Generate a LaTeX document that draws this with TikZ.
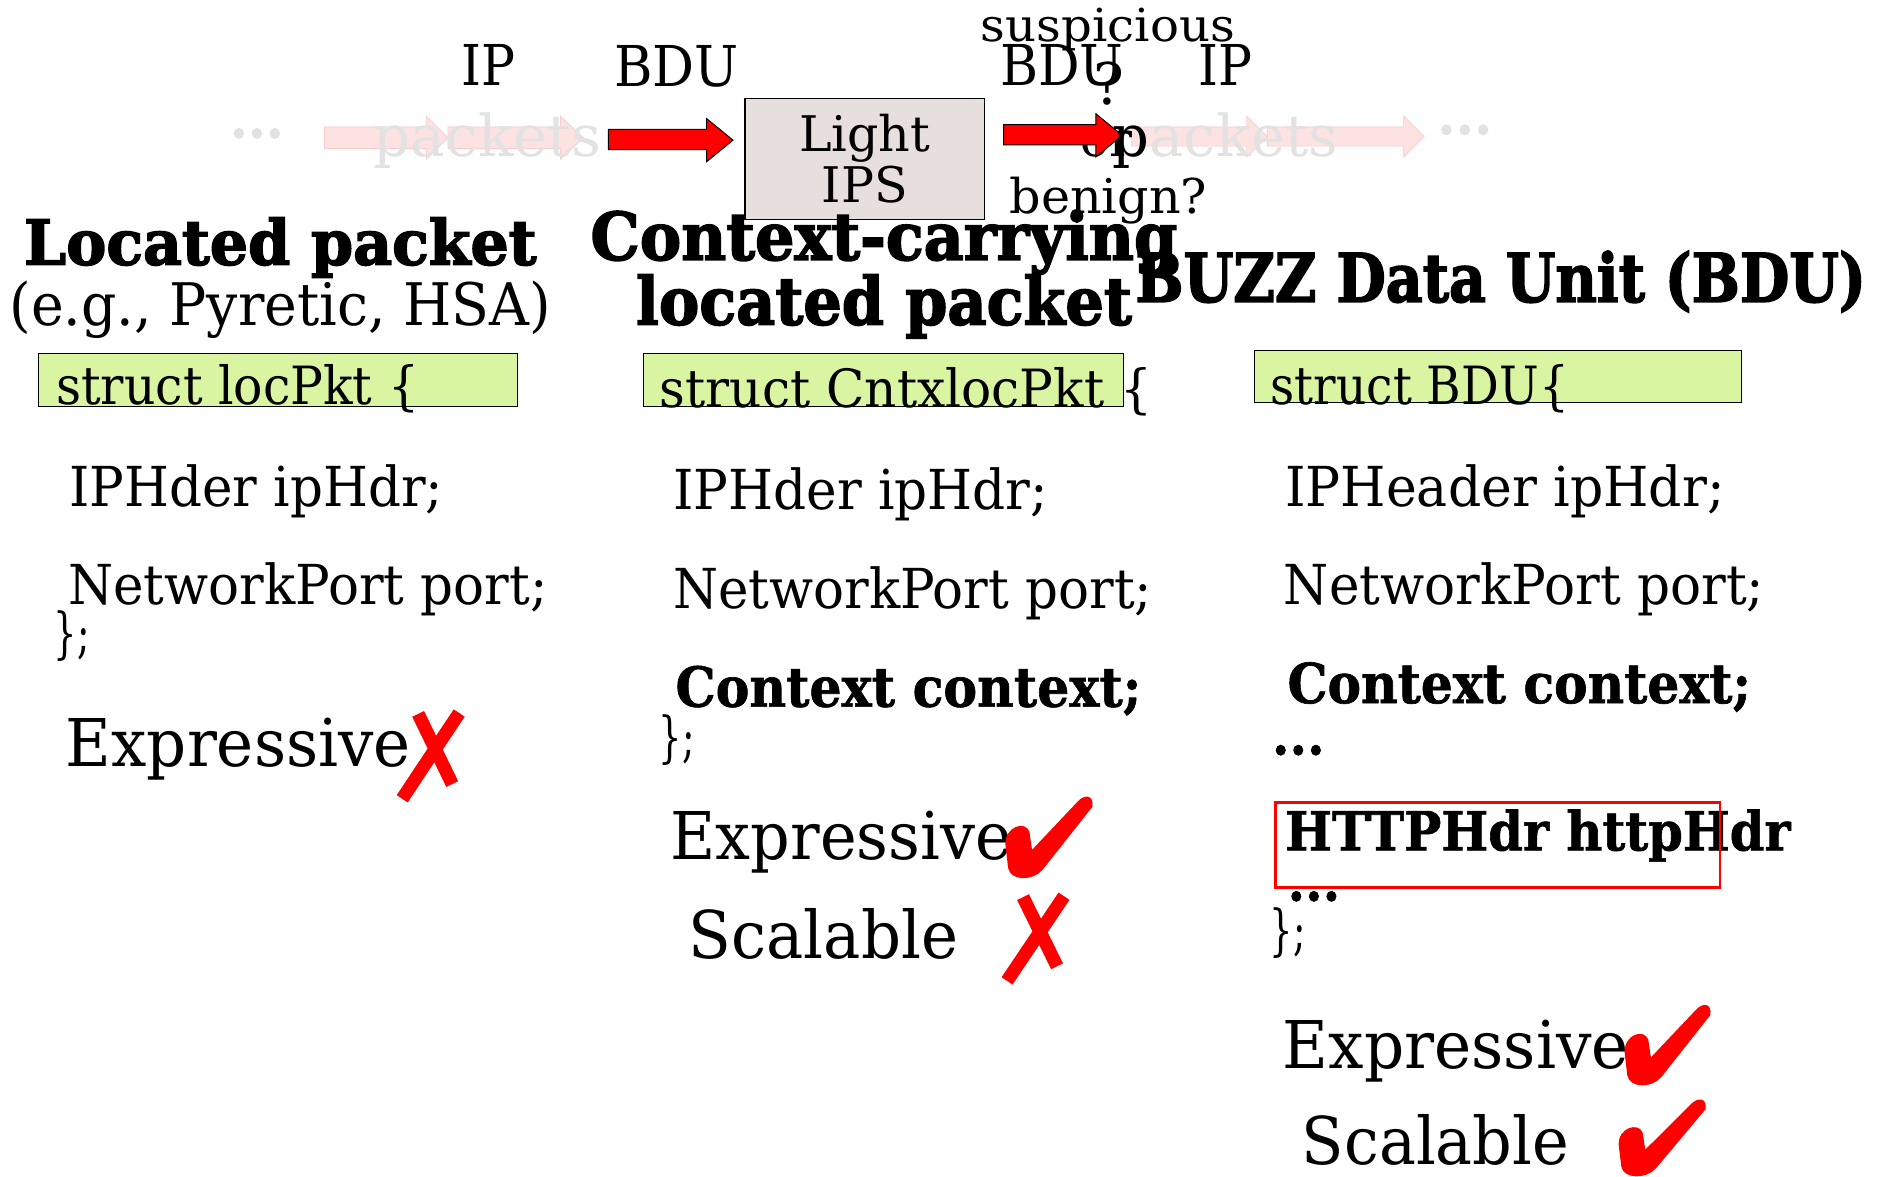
\documentclass[tikz,border=0pt]{standalone}
\usepackage{fontspec}
\setmainfont{DejaVu Serif}
\newfontfamily\heavyfont{DejaVu Serif Bold}[FakeBold=2.5]
\newfontfamily\boldfont{DejaVu Serif Bold}[FakeBold=1.2]
\usepackage{graphicx}

\definecolor{codegreen}{RGB}{217,245,162}
\definecolor{ipsfill}{RGB}{231,222,222}
\definecolor{fadetext}{RGB}{226,226,226}
\definecolor{fadearrow}{RGB}{253,226,226}
\definecolor{fadeedge}{RGB}{247,205,205}

% font size in pt (one picture unit is one pt)
\newcommand\fs[1]{\fontsize{#1}{#1}\selectfont}
% stretch or squeeze a text to a given width, keeping its height
\newcommand\fitw[2]{\resizebox{#1pt}{\height}{#2}}

\begin{document}
\begin{tikzpicture}[x=1pt,y=-1pt,
  tx/.style={anchor=base west,inner sep=0pt,outer sep=0pt},
  codebox/.style={draw=black,line width=0.8pt,fill=codegreen,anchor=north west,inner sep=0pt},
  blockarrow/.style={fill=red,draw=black,line width=0.8pt},
  fadedarrow/.style={fill=fadearrow,draw=fadeedge,line width=0.6pt},
  markstroke/.style={red,line width=11pt},
]
\useasboundingbox (0,0) rectangle (1568,982);
\fill[white] (0,0) rectangle (1568,982);

% ---------- packet flow along the top ----------
% faded arrows of the incoming and outgoing packet streams
\fill[fadedarrow] (271,106) -- (356,106) -- (356,97) -- (374,115) -- (356,133) -- (356,124) -- (271,124) -- cycle;
\fill[fadedarrow] (374,106) -- (468,106) -- (468,97) -- (487,115) -- (468,133) -- (468,124) -- (374,124) -- cycle;
\fill[fadedarrow] (945,106) -- (1041,106) -- (1041,97) -- (1058,114) -- (1041,131) -- (1041,122) -- (945,122) -- cycle;
\fill[fadedarrow] (1058,106) -- (1172,106) -- (1172,97) -- (1189,114) -- (1172,131) -- (1172,122) -- (1058,122) -- cycle;

\node[tx,font=\fs{46}\boldfont,text=fadetext] (dotsin) at (192,115) {\fitw{45}{...}};
\node[tx,font=\fs{46}\boldfont,text=fadetext] (dotsout) at (1200,112) {\fitw{46}{...}};
\node[tx,font=\fs{48},text=fadetext] (pktin) at (312,131) {\fitw{190}{packets}};

\node[tx,font=\fs{47}] (ipin) at (385,71) {\fitw{45}{IP}};
\node[tx,font=\fs{47}] (bduin) at (513,72) {\fitw{104}{BDU}};

% the light IPS
\node[draw=black,line width=0.9pt,fill=ipsfill,minimum width=200pt,minimum height=101pt,
      inner sep=0pt,align=center,font={\fontsize{41}{43}\selectfont}] (ips) at (722,132.5) {Light\\IPS};

% verdict label on the output side
\node[tx,font=\fs{38}] (susp) at (819,35) {\fitw{212}{suspicious}};
\node[tx,font=\fs{47}] (bduout) at (835,71) {\fitw{103}{BDU}};
\node[tx,font=\fs{47}] (ipout) at (1001,71) {\fitw{45}{IP}};
\node[tx,font=\fs{48}] (qmark) at (913,87) {?};
\node[tx,font=\fs{40}] (orword) at (902,131) {or};
\node[tx,font=\fs{40}] (benign) at (843,178) {\fitw{165}{benign?}};

% red arrows into and out of the IPS
\fill[blockarrow] (508,108) -- (590,108) -- (590,99) -- (612,117) -- (590,135) -- (590,125) -- (508,125) -- cycle;
\fill[blockarrow] (838,104) -- (915,104) -- (915,95) -- (937,113) -- (915,131) -- (915,121) -- (838,121) -- cycle;

\node[tx,font=\fs{48},text=fadetext] (pktout) at (929,131) {\fitw{188}{\textcolor{black}{p}ackets}};

% ---------- column headings ----------
\node[tx,font=\fs{52}\heavyfont] (h1a) at (20,221) {\fitw{428}{Located packet}};
\node[tx,font=\fs{49}] (h1b) at (8,272) {\fitw{452}{(e.g., Pyretic, HSA)}};
\node[tx,font=\fs{55}\heavyfont] (h2a) at (493,217) {\fitw{490}{Context-carrying}};
\node[tx,font=\fs{55}\heavyfont] (h2b) at (531,271) {\fitw{414}{located packet}};
\node[tx,font=\fs{56}\heavyfont] (h3) at (948,252) {\fitw{610}{BUZZ Data Unit (BDU)}};

% ---------- struct declarations ----------
\node[codebox,minimum width=400pt,minimum height=44pt] (g1) at (32,295) {};
\node[codebox,minimum width=401pt,minimum height=44pt] (g2) at (537,295) {};
\node[codebox,minimum width=407pt,minimum height=44pt] (g3) at (1047,292) {};

\node[tx,font=\fs{44}] (s1) at (47,338) {\fitw{303}{struct locPkt \{}};
\node[tx,font=\fs{44}] (s2) at (551,340) {\fitw{411}{struct CntxlocPkt \{}};
\node[tx,font=\fs{44}] (s3) at (1061,338) {\fitw{249}{struct BDU\{}};

% left column: located packet
\node[tx,font=\fs{46}] (l1) at (58,423) {\fitw{312}{IPHder ipHdr;}};
\node[tx,font=\fs{46}] (l2) at (57,505) {\fitw{400}{NetworkPort port;}};
\node[tx,font=\fs{46}] (l3) at (45,545) {\fitw{30}{\};}};
\node[tx,font=\fs{55}] (l4) at (55,640) {\fitw{288}{Expressive}};

% middle column: context-carrying located packet
\node[tx,font=\fs{46}] (m1) at (562,425) {\fitw{313}{IPHder ipHdr;}};
\node[tx,font=\fs{46}] (m2) at (562,508) {\fitw{400}{NetworkPort port;}};
\node[tx,font=\fs{46}\boldfont] (m3) at (564,590) {\fitw{389}{Context context;}};
\node[tx,font=\fs{46}] (m4) at (550,632) {\fitw{30}{\};}};
\node[tx,font=\fs{55}] (m5) at (560,718) {\fitw{285}{Expressive}};
\node[tx,font=\fs{55}] (m6) at (575,800) {\fitw{225}{Scalable}};

% right column: BUZZ data unit
\node[tx,font=\fs{46}] (r1) at (1073,423) {\fitw{367}{IPHeader ipHdr;}};
\node[tx,font=\fs{46}] (r2) at (1072,505) {\fitw{401}{NetworkPort port;}};
\node[tx,font=\fs{46}\boldfont] (r3) at (1075,587) {\fitw{387}{Context context;}};
\node[tx,font=\fs{46}\boldfont] (r4) at (1062,630) {\fitw{44}{...}};
\node[tx,font=\fs{45}\boldfont] (r5) at (1073,710) {\fitw{422}{HTTPHdr httpHdr}};
\node[tx,font=\fs{46}\boldfont] (r6) at (1075,752) {\fitw{44}{...}};
\node[tx,font=\fs{46}] (r7) at (1060,793) {\fitw{30}{\};}};
\node[tx,font=\fs{55}] (r8) at (1071,892) {\fitw{289}{Expressive}};
\node[tx,font=\fs{55}] (r9) at (1087,972) {\fitw{223}{Scalable}};

\node[draw=red,line width=2pt,anchor=north west,minimum width=371pt,minimum height=71pt,inner sep=0pt] (httpbox) at (1064,669) {};

% ---------- verdict marks ----------
% crosses
\foreach \px/\py/\w/\h in {330/593/58/77, 835/746/58/76}{
  \begin{scope}[shift={(\px,\py)},x=\w pt,y=-\h pt]
    \draw[markstroke] (0.33,0.04) -- (0.82,0.80);
    \draw[markstroke] (0.92,0.03) -- (0.10,0.96);
  \end{scope}
}
% ticks
\foreach \px/\py/\w/\h in {838/664/74/69, 1355/838/73/68, 1350/917/74/65}{
  \begin{scope}[shift={(\px,\py)},x=\w pt,y=-\h pt]
    \fill[red] (0.02,0.60) .. controls (0.01,0.38) and (0.24,0.30) .. (0.29,0.44)
      -- (0.32,0.66) -- (0.84,0.07) .. controls (0.92,-0.02) and (1.02,0.0) .. (1.0,0.14)
      -- (0.44,0.90) .. controls (0.33,1.04) and (0.08,1.04) .. (0.05,0.88) -- cycle;
  \end{scope}
}
\end{tikzpicture}
\end{document}
